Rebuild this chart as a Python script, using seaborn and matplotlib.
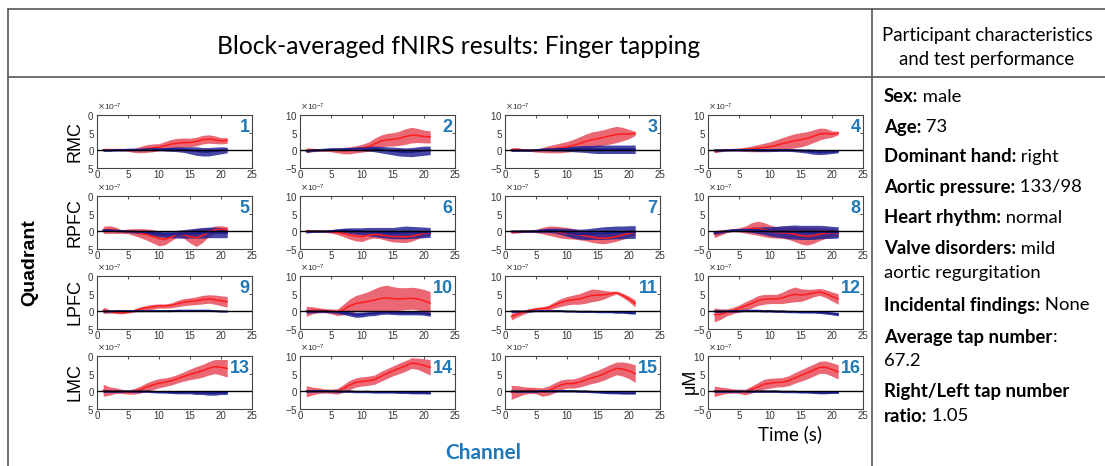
import numpy as np
import pandas as pd
import matplotlib
matplotlib.use("Agg")
import matplotlib.pyplot as plt
import seaborn as sns
from matplotlib.transforms import Bbox, TransformedBbox
from matplotlib.lines import Line2D

# ---------------- data (values in units of 1e-7 M) ----------------
time_s = [1, 2, 3, 4, 5, 6, 7, 8, 9, 10, 11, 12, 13, 14, 15, 16, 17, 18, 19, 20, 21]
quadrants = ["RMC", "RPFC", "LPFC", "LMC"]
channels = list(range(1, 17))

red_mean = {
    1: [0.2,0.2,0.2,0.2,0.1,0.0,0.2,0.5,0.7,0.9,1.3,1.8,2.0,2.2,2.2,2.5,3.0,3.2,3.0,2.7,2.8],
    2: [0.0,0.1,0.1,0.1,0.1,0.0,-0.1,0.0,0.3,0.6,1.0,1.8,2.6,3.0,3.1,3.4,3.9,4.3,4.2,3.9,3.8],
    3: [0.2,0.3,0.1,0.0,-0.1,0.1,0.3,0.5,0.7,1.0,1.4,1.9,2.5,3.0,3.3,3.7,4.1,4.5,4.6,4.6,4.8],
    4: [-0.2,0.0,0.1,0.2,0.2,0.3,0.4,0.6,0.8,1.0,1.4,1.9,2.3,2.7,3.0,3.4,4.0,4.6,4.8,4.6,4.9],
    5: [0.4,0.5,0.3,-0.1,0.0,-0.2,-0.5,-0.9,-1.4,-2.0,-2.3,-1.6,-0.8,-1.0,-1.5,-1.8,-1.2,-0.3,0.4,0.6,0.5],
    6: [0.1,0.1,0.1,0.0,-0.1,-0.3,-0.6,-1.0,-1.3,-1.5,-1.1,-0.9,-1.0,-1.3,-1.5,-1.5,-1.6,-1.4,-1.0,-0.6,-0.4],
    7: [-0.2,-0.1,0.0,0.0,0.1,0.2,0.2,0.0,-0.3,-0.5,-0.7,-1.0,-1.3,-1.6,-1.9,-2.0,-1.8,-1.5,-1.0,-0.6,-0.3],
    8: [-0.8,-0.3,0.1,0.3,0.4,0.5,0.8,0.9,0.5,0.0,-0.3,-0.4,-0.5,-0.8,-1.2,-1.4,-1.2,-0.8,-0.5,-0.4,-0.5],
    9: [0.3,0.0,-0.3,-0.4,-0.2,0.2,0.7,1.0,1.3,1.5,1.5,1.7,2.2,2.6,2.8,3.0,3.3,3.5,3.3,3.0,2.7],
    10: [0.0,0.3,0.3,0.2,0.0,-0.3,0.5,1.5,2.2,2.5,2.8,3.2,3.6,3.8,3.6,3.5,3.6,3.7,3.5,3.0,2.3],
    11: [-1.5,-0.8,-0.2,0.3,0.6,0.8,1.0,1.8,2.5,3.0,3.3,3.5,4.0,4.5,4.6,4.7,5.0,5.3,4.5,3.5,2.2],
    12: [-1.0,-0.8,-0.3,0.2,0.8,1.5,2.2,3.0,3.4,3.5,3.5,3.8,4.4,4.8,4.6,4.8,5.2,5.5,5.0,4.2,3.5],
    13: [0.3,0.1,0.2,0.0,-0.2,0.0,0.5,1.2,1.8,2.3,2.6,3.0,3.6,4.2,4.8,5.3,5.8,6.5,7.0,6.8,6.5],
    14: [0.0,0.1,0.2,0.1,0.0,0.0,0.8,1.8,2.5,2.8,3.0,3.3,4.2,5.0,5.8,6.5,7.2,8.0,7.8,7.3,6.8],
    15: [-0.3,0.0,0.2,0.3,0.2,-0.2,0.2,1.0,1.8,2.2,2.2,2.6,3.2,3.8,4.3,5.0,5.8,6.5,6.3,5.8,5.0],
    16: [0.0,0.1,0.2,0.1,0.0,-0.2,0.5,1.2,2.0,2.3,2.5,2.6,3.0,3.8,4.5,5.2,6.0,6.8,6.8,6.2,5.5],
}
red_sd = {
    1: [0.3,0.3,0.3,0.3,0.4,0.6,0.9,1.1,1.1,1.0,1.2,1.3,1.4,1.3,1.2,1.2,1.2,1.2,1.1,0.9,0.8],
    2: [0.7,0.5,0.4,0.4,0.5,0.7,0.9,1.0,1.0,1.1,1.3,1.6,1.7,1.8,1.9,2.0,2.2,2.2,2.0,1.8,1.7],
    3: [0.5,0.4,0.3,0.3,0.4,0.7,1.0,1.2,1.4,1.5,1.7,1.9,2.1,2.2,2.2,2.2,2.3,2.3,1.9,1.3,0.6],
    4: [0.5,0.4,0.3,0.3,0.4,0.6,0.8,1.0,1.2,1.4,1.6,1.7,1.9,2.0,2.0,1.9,1.8,1.7,1.4,0.9,0.5],
    5: [1.0,1.1,0.9,0.5,0.7,1.0,1.3,1.6,1.9,2.1,1.5,1.0,0.8,1.0,1.8,2.5,2.0,1.2,1.1,1.0,0.8],
    6: [0.5,0.4,0.3,0.3,0.4,0.6,0.9,1.2,1.4,1.4,1.1,1.0,1.1,1.3,1.5,1.6,1.6,1.4,1.1,0.8,0.6],
    7: [0.4,0.4,0.3,0.3,0.5,0.9,1.3,1.5,1.6,1.6,1.5,1.4,1.4,1.5,1.5,1.5,1.4,1.3,1.2,1.0,0.8],
    8: [1.0,0.8,0.5,0.4,0.6,1.0,1.6,2.0,2.0,1.8,1.6,1.6,1.8,2.1,2.4,2.5,2.2,1.8,1.5,1.2,1.0],
    9: [0.9,0.5,0.3,0.3,0.3,0.4,0.6,0.7,0.7,0.6,0.6,0.7,0.9,1.0,1.0,1.1,1.2,1.2,1.3,1.4,1.5],
    10: [1.4,1.0,0.7,0.6,0.7,0.9,1.5,2.0,2.3,2.5,2.8,3.2,3.5,3.6,3.4,3.2,3.1,3.1,3.1,3.2,3.3],
    11: [1.0,0.8,0.6,0.5,0.5,0.5,0.7,0.9,1.1,1.2,1.3,1.5,1.7,1.8,1.6,1.2,0.7,0.4,0.6,0.8,1.0],
    12: [2.0,1.5,1.0,0.9,1.0,1.2,1.3,1.4,1.4,1.3,1.3,1.6,1.9,2.1,1.8,1.4,1.1,1.0,1.1,1.3,1.5],
    13: [1.7,1.2,0.8,0.6,0.6,0.8,1.0,1.2,1.3,1.3,1.2,1.2,1.2,1.3,1.5,1.7,1.8,1.9,2.0,2.2,2.5],
    14: [1.6,1.1,0.8,0.6,0.6,0.8,1.1,1.3,1.3,1.3,1.3,1.3,1.4,1.4,1.4,1.5,1.5,1.5,1.6,1.9,2.2],
    15: [2.0,1.6,1.1,0.9,0.9,1.2,1.3,1.4,1.4,1.3,1.3,1.4,1.5,1.6,1.7,1.8,1.8,1.8,2.0,2.2,2.5],
    16: [1.5,1.1,0.8,0.6,0.6,0.8,1.0,1.2,1.4,1.4,1.3,1.3,1.4,1.5,1.6,1.7,1.7,1.7,1.8,1.9,2.0],
}
blue_mean = {
    1: [0.0,0.0,0.1,0.1,0.2,0.2,0.2,0.3,0.3,0.3,0.3,0.3,0.3,0.2,0.0,-0.2,-0.4,-0.4,-0.2,0.0,0.1],
    2: [-0.2,0.0,0.1,0.2,0.3,0.3,0.3,0.4,0.4,0.5,0.5,0.4,0.2,0.0,-0.2,-0.4,-0.5,-0.5,-0.3,-0.1,0.0],
    3: [0.0,0.0,0.0,0.0,0.1,0.2,0.3,0.3,0.4,0.4,0.4,0.4,0.4,0.3,0.3,0.3,0.3,0.3,0.3,0.3,0.3],
    4: [0.0,0.0,0.1,0.1,0.1,0.1,0.1,0.1,0.1,0.1,0.1,0.1,0.1,0.0,-0.1,-0.2,-0.4,-0.5,-0.5,-0.4,-0.3],
    5: [0.3,0.3,0.2,0.1,0.0,-0.1,-0.2,-0.3,-0.5,-0.7,-0.8,-0.8,-0.8,-0.7,-0.6,-0.5,-0.4,-0.3,-0.3,-0.4,-0.5],
    6: [-0.1,0.0,0.0,0.0,0.1,0.2,0.3,0.2,0.1,0.0,-0.1,-0.2,-0.3,-0.4,-0.5,-0.4,-0.3,-0.3,-0.3,-0.3,-0.3],
    7: [0.0,0.0,0.0,0.0,0.1,0.2,0.3,0.2,0.0,-0.3,-0.6,-0.8,-0.8,-0.7,-0.6,-0.5,-0.4,-0.3,-0.3,-0.2,-0.2],
    8: [-0.5,-0.2,0.1,0.3,0.4,0.4,0.4,0.3,0.2,0.0,-0.1,-0.1,-0.2,-0.2,-0.3,-0.3,-0.3,-0.2,-0.2,-0.3,-0.3],
    9: [0.0,0.0,0.1,0.1,0.1,0.1,0.1,0.1,0.1,0.1,0.1,0.1,0.2,0.2,0.2,0.2,0.2,0.2,0.1,0.0,0.0],
    10: [0.0,0.0,0.0,0.0,-0.1,-0.2,-0.4,-0.7,-1.0,-0.9,-0.7,-0.6,-0.4,-0.3,-0.4,-0.5,-0.5,-0.5,-0.5,-0.6,-0.8],
    11: [0.0,0.0,0.0,0.0,0.1,0.1,0.1,0.1,0.1,0.0,0.0,-0.1,-0.1,-0.1,-0.2,-0.2,-0.2,-0.3,-0.3,-0.4,-0.5],
    12: [0.0,0.0,0.0,0.1,0.1,0.2,0.2,0.2,0.1,0.1,0.0,0.0,-0.1,-0.1,-0.2,-0.2,-0.2,-0.3,-0.4,-0.6,-0.8],
    13: [0.0,0.0,0.0,0.0,0.0,0.0,0.0,0.0,-0.1,-0.2,-0.2,-0.3,-0.3,-0.3,-0.3,-0.4,-0.4,-0.5,-0.5,-0.4,-0.4],
    14: [0.0,0.1,0.1,0.1,0.1,0.0,0.0,0.0,-0.1,-0.1,-0.1,-0.2,-0.2,-0.2,-0.2,-0.3,-0.3,-0.4,-0.4,-0.4,-0.5],
    15: [0.0,0.0,0.0,0.0,0.0,0.1,0.1,0.1,0.1,0.1,0.1,0.0,0.0,-0.1,-0.2,-0.3,-0.4,-0.4,-0.5,-0.5,-0.5],
    16: [0.0,0.0,0.0,0.0,0.0,0.0,0.0,0.0,0.0,0.0,0.0,-0.1,-0.1,-0.1,-0.2,-0.2,-0.3,-0.4,-0.4,-0.3,-0.3],
}
blue_sd = {
    1: [0.3,0.3,0.3,0.3,0.3,0.3,0.3,0.4,0.4,0.4,0.5,0.6,0.7,0.8,1.0,1.2,1.2,1.2,1.1,1.0,0.8],
    2: [0.4,0.3,0.3,0.3,0.3,0.3,0.3,0.4,0.5,0.6,0.7,0.8,0.9,1.0,1.1,1.2,1.2,1.3,1.3,1.3,1.2],
    3: [0.3,0.3,0.3,0.3,0.3,0.3,0.4,0.5,0.6,0.7,0.8,0.9,1.0,1.1,1.2,1.2,1.2,1.2,1.2,1.2,1.2],
    4: [0.4,0.3,0.3,0.3,0.3,0.3,0.3,0.4,0.4,0.4,0.4,0.4,0.4,0.4,0.5,0.6,0.7,0.7,0.6,0.5,0.4],
    5: [0.3,0.3,0.3,0.3,0.3,0.4,0.5,0.6,0.7,0.8,0.9,1.0,1.1,1.2,1.3,1.4,1.5,1.5,1.5,1.4,1.3],
    6: [0.4,0.3,0.3,0.3,0.4,0.5,0.6,0.8,0.9,1.0,1.2,1.3,1.4,1.5,1.6,1.7,1.8,1.7,1.6,1.5,1.4],
    7: [0.3,0.3,0.3,0.3,0.4,0.5,0.6,0.7,0.9,1.1,1.3,1.4,1.5,1.6,1.7,1.8,1.8,1.8,1.8,1.8,1.8],
    8: [0.5,0.4,0.3,0.3,0.4,0.5,0.7,0.9,1.1,1.3,1.5,1.7,1.9,2.0,2.0,2.0,2.0,1.9,1.8,1.7,1.6],
    9: [0.2,0.2,0.2,0.2,0.2,0.2,0.2,0.2,0.2,0.2,0.2,0.2,0.2,0.2,0.2,0.2,0.2,0.2,0.2,0.2,0.2],
    10: [0.5,0.4,0.3,0.3,0.3,0.4,0.5,0.6,0.7,0.7,0.6,0.6,0.5,0.5,0.5,0.5,0.5,0.5,0.5,0.5,0.6],
    11: [0.3,0.3,0.2,0.2,0.2,0.2,0.2,0.2,0.2,0.2,0.2,0.2,0.2,0.2,0.2,0.2,0.2,0.2,0.2,0.3,0.3],
    12: [0.3,0.3,0.3,0.3,0.3,0.3,0.3,0.3,0.3,0.3,0.3,0.3,0.3,0.3,0.3,0.3,0.3,0.3,0.4,0.4,0.5],
    13: [0.3,0.3,0.3,0.3,0.3,0.3,0.3,0.3,0.3,0.3,0.3,0.3,0.4,0.4,0.4,0.5,0.5,0.6,0.6,0.5,0.5],
    14: [0.3,0.3,0.3,0.3,0.3,0.3,0.3,0.3,0.3,0.3,0.3,0.3,0.3,0.3,0.3,0.3,0.3,0.3,0.3,0.3,0.3],
    15: [0.3,0.3,0.3,0.3,0.3,0.3,0.3,0.3,0.3,0.3,0.3,0.3,0.3,0.3,0.3,0.3,0.3,0.3,0.3,0.3,0.3],
    16: [0.3,0.3,0.3,0.3,0.3,0.3,0.3,0.3,0.3,0.3,0.3,0.3,0.3,0.3,0.3,0.3,0.3,0.3,0.3,0.3,0.3],
}

x_ticks = [0, 5, 10, 15, 20, 25]
y_ticks = [-5, 0, 5, 10]
SCALE = 1e-7

title_text = "Block-averaged fNIRS results: Finger tapping"
header_lines = ["Participant characteristics", "and test performance"]
info_lines = [
    ("Sex:", " male"),
    ("Age:", " 73"),
    ("Dominant hand:", " right"),
    ("Aortic pressure:", " 133/98"),
    ("Heart rhythm:", " normal"),
    ("Valve disorders:", " mild"),
    ("", "aortic regurgitation"),
    ("Incidental findings:", " None"),
    ("Average tap number", ":"),
    ("", "67.2"),
    ("Right/Left tap number", ""),
    ("ratio:", " 1.05"),
]

# ---------------- style ----------------
sns.set_theme(style="white")
plt.rcParams["font.family"] = ["Liberation Sans", "DejaVu Sans"]
plt.rcParams["mathtext.fontset"] = "dejavusans"

W, H = 1105, 466
fig = plt.figure(figsize=(W / 100, H / 100), dpi=100, facecolor="white")

def fx(px):
    return px / W

def fy(py):
    return 1 - py / H

RED_FILL = "#e64656"
RED_LINE = "#ff1c1c"
BLUE_FILL = "#1e1e91"
BLUE_LINE = "#1b1f8e"
NUM_BLUE = "#1f78b8"
BODY_FONT = ["Lato", "DejaVu Sans"]

col_left = [97, 300, 505, 708]
row_top = [115, 196, 276, 356]
ax_w, ax_h = 155, 53

t = np.array(time_s, dtype=float)
for r in range(4):
    for c in range(4):
        ch = r * 4 + c + 1
        ax = fig.add_axes([fx(col_left[c]), fy(row_top[r] + ax_h), fx(ax_w), ax_h / H])
        rm = np.array(red_mean[ch]) * SCALE
        rs = np.array(red_sd[ch]) * SCALE
        bm = np.array(blue_mean[ch]) * SCALE
        bs = np.array(blue_sd[ch]) * SCALE
        ax.fill_between(t, rm - rs, rm + rs, color=RED_FILL, alpha=0.82, lw=0)
        ax.fill_between(t, bm - bs, bm + bs, color=BLUE_FILL, alpha=0.82, lw=0)
        df = pd.DataFrame({"t": t, "red": rm, "blue": bm})
        sns.lineplot(data=df, x="t", y="red", ax=ax, color=RED_LINE, lw=1.1)
        sns.lineplot(data=df, x="t", y="blue", ax=ax, color=BLUE_LINE, lw=1.3)
        ax.axhline(0, color="black", lw=1.0, zorder=5)
        ax.set_xlim(0, 25)
        ax.set_ylim(-5 * SCALE, 10 * SCALE)
        ax.set_xticks(x_ticks)
        ax.set_yticks([v * SCALE for v in y_ticks])
        ax.ticklabel_format(axis="y", style="sci", scilimits=(-7, -7), useMathText=True)
        ax.yaxis.get_offset_text().set_fontsize(6)
        ax.yaxis.get_offset_text().set_color("#333333")
        ax.set_xlabel("")
        ax.set_ylabel("")
        ax.tick_params(axis="both", which="both", direction="in", length=2.5, width=0.6,
                       labelsize=7, pad=1.5, colors="#333333", top=True, right=True,
                       labelcolor="#333333")
        for sp in ax.spines.values():
            sp.set_color("#444444")
            sp.set_linewidth(0.8)
        ax.set_facecolor("white")
        ax.text(0.985, 0.92, str(ch), transform=ax.transAxes, ha="right", va="top",
                fontsize=13, fontweight="bold", color=NUM_BLUE, zorder=6)
        if c == 0:
            clip = TransformedBbox(Bbox([[fx(88), 0], [1, 1]]), fig.transFigure)
            for tk in ax.yaxis.get_major_ticks():
                tk.label1.set_clip_box(clip)
                tk.label1.set_clip_on(True)
            fig.text(fx(75), fy(row_top[r] + ax_h / 2), quadrants[r], rotation=90,
                     ha="center", va="center", fontsize=13, color="black")

# figure labels
fig.text(fx(30), fy(263), "Quadrant", rotation=90, ha="center", va="center",
         fontsize=14, fontweight="bold", color="black")
fig.text(fx(483), fy(453), "Channel", ha="center", va="center", fontsize=15,
         fontweight="bold", color=NUM_BLUE, family=BODY_FONT)
fig.text(fx(690), fy(381), "μM", rotation=90, ha="center", va="center",
         fontsize=13, color="black")
fig.text(fx(790), fy(434), "Time (s)", ha="center", va="center", fontsize=13.5,
         color="black", family=BODY_FONT)

# frame lines
for (x0, y0, x1, y1) in [(8, 9, 1105, 9), (8, 9, 8, 466), (8, 77, 1105, 77), (872, 9, 872, 466)]:
    fig.add_artist(Line2D([fx(x0), fx(x1)], [fy(y0), fy(y1)], transform=fig.transFigure,
                          color="#555555", lw=1.2))

# title and headers
fig.text(fx(459), fy(47), title_text, ha="center", va="center", fontsize=17.7,
         family=BODY_FONT, color="black")
fig.text(fx(987), fy(35), header_lines[0], ha="center", va="center", fontsize=13.4,
         family=BODY_FONT, color="black")
fig.text(fx(987), fy(60), header_lines[1], ha="center", va="center", fontsize=13.4,
         family=BODY_FONT, color="black")

# info panel
renderer = fig.canvas.get_renderer()
info_y = [97, 127, 157, 187, 218, 249, 273, 305, 337, 361, 392, 416]
for (bold, reg), yy in zip(info_lines, info_y):
    x_px = 884
    if bold:
        tb = fig.text(fx(x_px), fy(yy), bold, ha="left", va="center", fontsize=13.3,
                      fontweight="bold", family=BODY_FONT, color="black")
        bb = tb.get_window_extent(renderer=renderer)
        x_px = bb.x1
    if reg:
        fig.text(fx(x_px), fy(yy), reg, ha="left", va="center", fontsize=13.3,
                 family=BODY_FONT, color="black")

fig.savefig("out.png", dpi=100, facecolor="white")
